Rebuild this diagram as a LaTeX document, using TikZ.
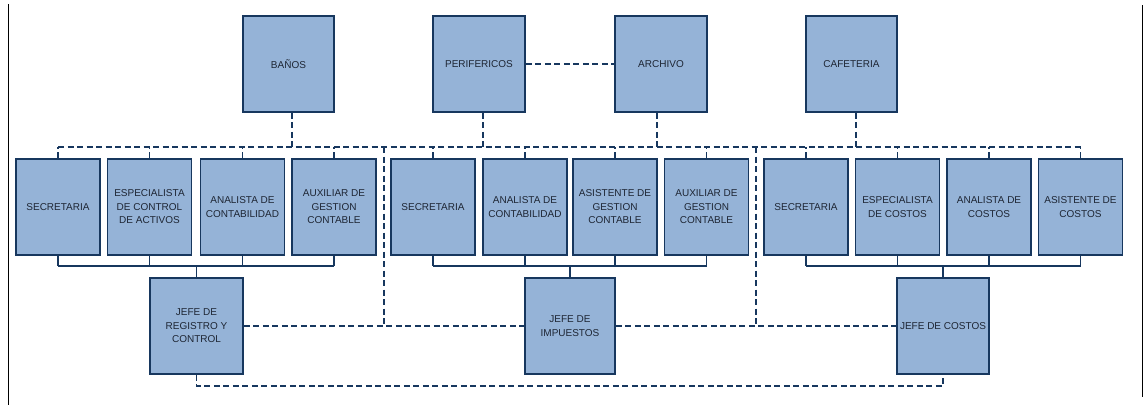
\documentclass[tikz,border=0pt]{standalone}
\usepackage{fontspec}
\setmainfont{Liberation Sans}
\definecolor{boxfill}{RGB}{149,179,215}
\definecolor{boxline}{RGB}{23,55,94}
\definecolor{boxtext}{RGB}{30,38,52}
\tikzset{
  unit/.style={draw=boxline, fill=boxfill, line width=1.5pt, rectangle,
    minimum width=84pt, minimum height=96pt, inner sep=1pt, align=center,
    text=boxtext, font=\fontsize{10}{13.5}\selectfont},
  topunit/.style={unit, minimum width=91pt},
  jefeunit/.style={unit, minimum width=92pt},
  dashlink/.style={draw=boxline, line width=1.3pt, dash pattern=on 6pt off 3.5pt},
  solidlink/.style={draw=boxline, line width=1.3pt},
  frameline/.style={draw=black, line width=1pt}
}
\begin{document}
\begin{tikzpicture}[x=1pt, y=-1pt]
\useasboundingbox (0,0) rectangle (1143,405);
% frame lines
\coordinate (fl1) at (8,4);
\coordinate (fl2) at (8,405);
\coordinate (fr1) at (1142,5);
\coordinate (fr2) at (1142,397);
\draw[frameline] (fl1) -- (fl2);
\draw[frameline] (fr1) -- (fr2);

% top boxes
\node[topunit] (banos) at (288.5,64) {BAÑOS};
\node[topunit, minimum width=92pt] (perif) at (479,64) {PERIFERICOS};
\node[topunit, minimum width=92pt] (arch) at (661,64) {ARCHIVO};
\node[topunit] (cafe) at (851.5,64) {CAFETERIA};

% row boxes group 1
\node[unit] (a1) at (58,207) {SECRETARIA};
\node[unit] (a2) at (149.5,207) {ESPECIALISTA\\DE CONTROL\\DE ACTIVOS};
\node[unit] (a3) at (242.5,207) {ANALISTA DE\\CONTABILIDAD};
\node[unit] (a4) at (334,207) {AUXILIAR DE\\GESTION\\CONTABLE};
% group 2
\node[unit] (b1) at (433,207) {SECRETARIA};
\node[unit] (b2) at (525,207) {ANALISTA DE\\CONTABILIDAD};
\node[unit] (b3) at (615,207) {ASISTENTE DE\\GESTION\\CONTABLE};
\node[unit] (b4) at (706.5,207) {AUXILIAR DE\\GESTION\\CONTABLE};
% group 3
\node[unit] (c1) at (806,207) {SECRETARIA};
\node[unit] (c2) at (897.5,207) {ESPECIALISTA\\DE COSTOS};
\node[unit] (c3) at (989,207) {ANALISTA DE\\COSTOS};
\node[unit] (c4) at (1080.5,207) {ASISTENTE DE\\COSTOS};

% jefes
\node[jefeunit, minimum width=93pt] (jreg) at (196.5,326) {JEFE DE\\REGISTRO Y\\CONTROL};
\node[jefeunit, minimum width=90pt] (jimp) at (570,326) {JEFE DE\\IMPUESTOS};
\node[jefeunit] (jcos) at (943,326) {JEFE DE COSTOS};

% reference levels
\coordinate (bt) at (0,147);
\coordinate (bs) at (0,266);
\coordinate (bm) at (0,326);
\coordinate (bb) at (0,386);
\coordinate (v1) at (384,147);
\coordinate (v2) at (756,147);

% top dashed bus
\draw[dashlink] (a1.north |- bt) -- (c4.north |- bt);
\foreach \n in {a1,a2,a3,a4,b1,b2,b3,b4,c1,c2,c3,c4}
  \draw[dashlink] (\n.north) -- (\n.north |- bt);
\draw[dashlink] ([xshift=3.5pt]banos.south) -- ([xshift=3.5pt]banos.south |- bt);
\draw[dashlink] ([xshift=4pt]perif.south) -- ([xshift=4pt]perif.south |- bt);
\draw[dashlink] ([xshift=-4pt]arch.south) -- ([xshift=-4pt]arch.south |- bt);
\draw[dashlink] ([xshift=4.5pt]cafe.south) -- ([xshift=4.5pt]cafe.south |- bt);
\draw[dashlink] (perif.east) -- (arch.west);

% vertical dashed to middle line
\draw[dashlink] (v1) -- (v1 |- bm);
\draw[dashlink] (v2) -- (v2 |- bm);
\draw[dashlink] (jreg.east) -- (jimp.west);
\draw[dashlink] (jimp.east) -- (jcos.west);

% bottom dashed
\draw[dashlink] (jreg.south) -- (jreg.south |- bb) -- (jcos.south |- bb) -- (jcos.south);

% solid buses
\foreach \g/\j in {a/jreg,b/jimp,c/jcos}{
  \draw[solidlink] (\g1.south |- bs) -- (\g4.south |- bs);
  \foreach \k in {1,2,3,4}
    \draw[solidlink] (\g\k.south) -- (\g\k.south |- bs);
  \draw[solidlink] (\j.north) -- (\j.north |- bs);
}
\end{tikzpicture}
\end{document}
